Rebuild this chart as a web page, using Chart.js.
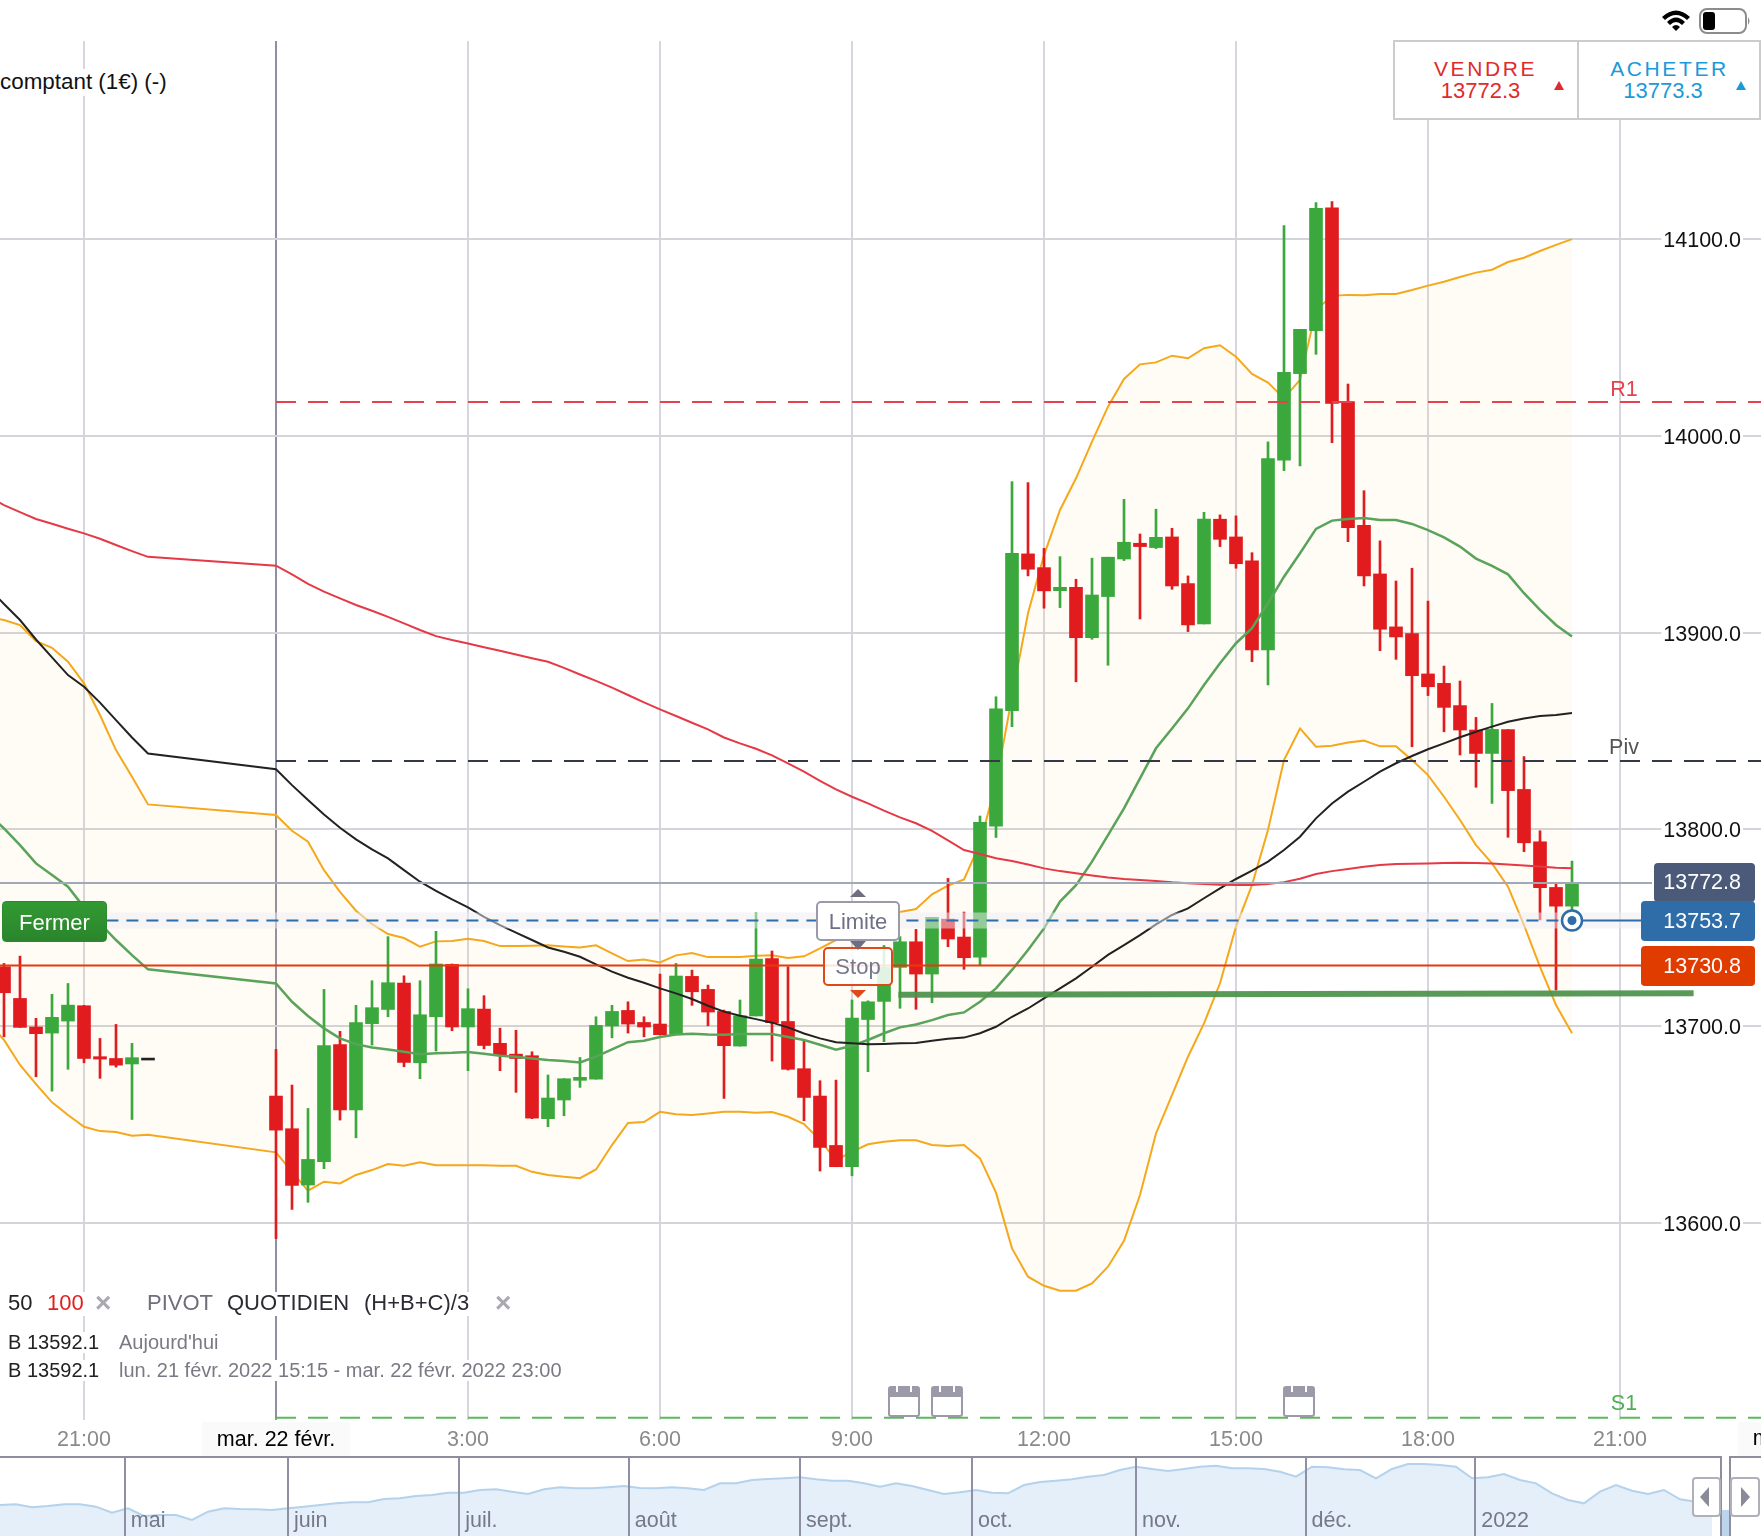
<!DOCTYPE html>
<html lang="fr"><head><meta charset="utf-8">
<script src="https://cdn.jsdelivr.net/npm/chart.js@4"></script>
<style>
html,body{margin:0;padding:0;background:#fff;width:1761px;height:1536px;overflow:hidden;font-family:"Liberation Sans",Arial,sans-serif}
#wrap{position:relative;width:1761px;height:1536px;overflow:hidden}
canvas{position:absolute;left:0;display:block}
.t{position:absolute;white-space:nowrap;line-height:1}
.box{position:absolute;box-sizing:border-box}
.tri{position:absolute;width:0;height:0;border-style:solid;border-color:transparent}
</style></head><body><div id="wrap">
<canvas id="main" width="1761" height="1457" style="top:0"></canvas>
<canvas id="nav" width="1761" height="79" style="top:1457px"></canvas>

<svg style="position:absolute;left:1660px;top:6px" width="92" height="30" viewBox="0 0 92 30">
<path d="M2 11 Q16 -2 30 11 L27 14 Q16 4 5 14Z M7 16 Q16 7 25 16 L22 19 Q16 13 10 19Z M12 21 Q16 17 20 21 L16 25Z" fill="#000"/>
<rect x="40" y="3" width="46" height="24" rx="7" fill="#fff" stroke="#8c8c8c" stroke-width="2"/>
<rect x="43" y="6" width="12" height="18" rx="3" fill="#000"/>
<path d="M88 11 Q91 15 88 19Z" fill="#8c8c8c"/></svg>

<div class="box" style="left:1393px;top:40px;width:368px;height:80px;border:2px solid #ccc;background:#fff"></div>
<div class="box" style="left:1577px;top:40px;width:2px;height:80px;background:#ccc"></div>
<div class="t" style="left:1393px;width:185px;text-align:center;top:58px;font-size:21px;letter-spacing:2.6px;color:#e02b2b">VENDRE</div>
<div class="t" style="left:1393px;width:175px;text-align:center;top:80px;font-size:22px;color:#e02b2b">13772.3</div>
<div class="tri" style="left:1554px;top:81px;border-width:0 5px 9px 5px;border-bottom-color:#e02b2b"></div>
<div class="t" style="left:1578px;width:183px;text-align:center;top:58px;font-size:21px;letter-spacing:2.6px;color:#1a9ad9">ACHETER</div>
<div class="t" style="left:1578px;width:170px;text-align:center;top:80px;font-size:22px;color:#1a9ad9">13773.3</div>
<div class="tri" style="left:1736px;top:81px;border-width:0 5px 9px 5px;border-bottom-color:#1a9ad9"></div>

<div class="t" style="left:0;top:69px;font-size:22.4px;color:#111;background:#fff;padding:2px 2px 3px 0">comptant (1€) (-)</div>

<div class="box" style="left:2px;top:901px;width:105px;height:41px;background:linear-gradient(#329a32,#2a852c);border:1px solid #2b8a2d;border-radius:4px"></div>
<div class="t" style="left:2px;width:105px;text-align:center;top:912px;font-size:22px;color:#fff">Fermer</div>

<div class="tri" style="left:850px;top:889px;border-width:0 8px 8px 8px;border-bottom-color:#6e6e80"></div>
<div class="box" style="left:823px;top:947px;width:70px;height:39px;background:rgba(255,255,255,.86);border:2px solid #e0481a;border-radius:5px"></div>
<div class="t" style="left:823px;width:70px;text-align:center;top:956px;font-size:22px;color:#77778a">Stop</div>
<div class="box" style="left:816px;top:901px;width:84px;height:40px;background:#fff;border:2px solid #9a9aaa;border-radius:5px"></div>
<div class="t" style="left:816px;width:84px;text-align:center;top:911px;font-size:22px;color:#6f6f85">Limite</div>
<div class="tri" style="left:850px;top:941px;border-width:9px 8px 0 8px;border-top-color:#6e6e80"></div>
<div class="tri" style="left:850px;top:990px;border-width:8px 8px 0 8px;border-top-color:#e0481a"></div>

<div class="t" style="left:8px;top:1292px;font-size:22px;color:#222;background:#fff;padding:0 4px 2px 0">50</div>
<div class="t" style="left:47px;top:1292px;font-size:22px;color:#e02020;background:#fff;padding:0 4px 2px 0">100</div>
<div class="t" style="left:95px;top:1289px;font-size:28px;font-weight:bold;color:#a9a9b2;background:#fff;padding:0 8px 0 0">×</div>
<div class="t" style="left:147px;top:1292px;font-size:22px;color:#6f6f7a;background:#fff;padding:0 9px 2px 0">PIVOT</div>
<div class="t" style="left:227px;top:1292px;font-size:22px;color:#2b2b33;background:#fff;padding:0 16px 2px 0">QUOTIDIEN</div>
<div class="t" style="left:364px;top:1292px;font-size:22px;color:#2b2b33;background:#fff;padding:0 4px 2px 0">(H+B+C)/3</div>
<div class="t" style="left:495px;top:1289px;font-size:28px;font-weight:bold;color:#a9a9b2;background:#fff">×</div>
<div class="t" style="left:8px;top:1332px;font-size:20px;color:#222;background:#fff;padding:0 6px 1px 0">B 13592.1</div>
<div class="t" style="left:119px;top:1332px;font-size:20px;color:#7a7a85;background:#fff;padding:0 6px 1px 0">Aujourd'hui</div>
<div class="t" style="left:8px;top:1360px;font-size:20px;color:#222;background:#fff;padding:0 6px 1px 0">B 13592.1</div>
<div class="t" style="left:119px;top:1360px;font-size:20px;color:#7a7a85;background:#fff;padding:0 6px 1px 0">lun. 21 févr. 2022 15:15 - mar. 22 févr. 2022 23:00</div>

<svg style="position:absolute;left:888px;top:1384px" width="32" height="33" viewBox="0 0 32 33"><rect x="1" y="3" width="30" height="29" rx="2" fill="#fff" stroke="#9a9aa8" stroke-width="2"/><rect x="1" y="3" width="30" height="10" fill="#9a9aa8"/><path d="M9 1V8M23 1V8" stroke="#fff" stroke-width="2"/></svg>
<svg style="position:absolute;left:931px;top:1384px" width="32" height="33" viewBox="0 0 32 33"><rect x="1" y="3" width="30" height="29" rx="2" fill="#fff" stroke="#9a9aa8" stroke-width="2"/><rect x="1" y="3" width="30" height="10" fill="#9a9aa8"/><path d="M9 1V8M23 1V8" stroke="#fff" stroke-width="2"/></svg>
<svg style="position:absolute;left:1283px;top:1384px" width="32" height="33" viewBox="0 0 32 33"><rect x="1" y="3" width="30" height="29" rx="2" fill="#fff" stroke="#9a9aa8" stroke-width="2"/><rect x="1" y="3" width="30" height="10" fill="#9a9aa8"/><path d="M9 1V8M23 1V8" stroke="#fff" stroke-width="2"/></svg>

<div class="box" style="left:0;top:1456px;width:1721px;height:2px;background:#8e8e9e"></div>
<div class="box" style="left:1730px;top:1456px;width:31px;height:2px;background:#8e8e9e"></div>
<div class="box" style="left:1720px;top:1456px;width:2px;height:80px;background:#8e8e9e"></div>
<div class="box" style="left:1729px;top:1456px;width:2px;height:80px;background:#8e8e9e"></div>
<div class="box" style="left:1722px;top:1510px;width:7px;height:26px;background:#bcd5ec"></div>
<div class="box" style="left:1692px;top:1477px;width:29px;height:40px;background:#fff;border:2px solid #b0b0bb;border-radius:4px"></div>
<div class="tri" style="left:1700px;top:1487px;border-width:10px 9px 10px 0;border-right-color:#8a8a98"></div>
<div class="box" style="left:1730px;top:1477px;width:30px;height:40px;background:#fff;border:2px solid #b0b0bb;border-radius:4px"></div>
<div class="tri" style="left:1741px;top:1487px;border-width:10px 0 10px 9px;border-left-color:#8a8a98"></div>
</div>
<script>
// Quarter-hour slots: first slot is 21:00 minus 6 bars; slot 0 is mar. 22 févr. 00:00
const firstSlot = -18;
const gap = [null,null,null,null,null,null,null];
const opens = [null,13730.2,13714.1,13699.6,13696.5,13702.6,13710.4,13684.5,13683.6,13680.8,13683.3,...gap,
13664.5,13647.9,13619.3,13631.1,13690.6,13657.4,13701.3,13708.5,13721.9,13681.4,13704.8,13731.4,13699.6,13708.7,13691.3,13685.8,13685,13653,13662.5,13672.5,
13673.1,13700.1,13708,13701.9,13701.1,13696,13725.3,13718.7,13707.5,13689.9,13705.2,13734.3,13702.4,13678.4,13664.5,13639.4,13628.6,13703.4,13712.6,13729.9,
13742.9,13726.5,13754.4,13745.3,13735.1,13801.7,13860.3,13940,13933,13921.3,13923,13897.4,13918.3,13937.4,13945.4,13943.2,13948.6,13924.9,13904.4,13957.6,
13948.6,13936.4,13891.2,13987.6,14031.6,14053.4,14115.8,14017.4,13954.5,13929.8,13902.9,13899.5,13879,13874.2,13862.9,13850.5,13838.6,13850.7,13820.3,13793.7,13770.5,13761];
const highs = [null,13731.9,13735.6,13704,13716.2,13721.7,13710.6,13693.8,13700.9,13691.3,13683.3,...gap,
13688.2,13670.1,13658.2,13718.7,13697.4,13710.6,13723.1,13745.5,13725.6,13723.1,13748.2,13731.6,13719,13715.5,13699,13697.9,13687,13675.2,13673.3,13684.1,
13704.8,13710.6,13712.4,13704.8,13726.5,13731.9,13728.5,13720.9,13708.2,13713.3,13757.7,13738.2,13730.2,13693,13672.3,13672.6,13713.3,13712.9,13741,13745.5,
13749.2,13755.3,13775.1,13758,13806.8,13867.4,13976.7,13976.2,13942.8,13938.6,13927.1,13937.8,13938.3,13967.7,13950.1,13962.7,13953,13928.8,13961.1,13959.8,
13959.3,13940.6,13996.9,14106.8,14054.1,14118.5,14119,14026.3,13972.1,13946.6,13926.2,13932.7,13916,13883,13875.4,13856.9,13864,13850.7,13837,13799.3,13772.6,13783.9];
const lows = [null,13694.6,13699.4,13674.3,13667,13678.1,13681.4,13673.5,13679.2,13652.6,13683.3,...gap,
13592.1,13606.9,13610.5,13627.6,13652.3,13643.3,13690.4,13704.8,13679.4,13673.3,13687.4,13697.7,13677.4,13688.5,13677.4,13666.4,13653,13648.9,13654.5,13668.9,
13673.1,13694.1,13696.5,13694.6,13695.5,13696,13710.6,13700.2,13663.3,13689.9,13705.2,13682.3,13677.7,13652,13626.4,13628.6,13624,13676.9,13692.1,13709.1,
13708.6,13711.9,13740.4,13728.9,13731.1,13795.9,13852.2,13928.8,13912.4,13912.7,13875,13896.6,13883.4,13936.6,13906.9,13942.7,13922,13900.5,13904.4,13943.7,
13932.7,13885.2,13873.4,13982.3,13984.7,14041.4,13996.5,13946.2,13923.7,13890.8,13886.4,13842,13868,13849.6,13837.8,13821.4,13813.2,13796,13788.7,13754,13718.4,13759];
const closes = [null,13717,13699.4,13696.2,13704.5,13710.7,13683.6,13683.3,13680.2,13684,13683.3,...gap,
13647.2,13619.1,13632.3,13690.1,13657.4,13701.9,13709.4,13722.1,13681.6,13705.8,13731.6,13699.6,13708.9,13690.2,13685.3,13683.6,13653.3,13663.5,13673.3,13674,
13700.4,13707.5,13701.1,13699.6,13695.7,13725.5,13717.5,13707.2,13690.1,13705.3,13734.1,13701.8,13678.1,13663.8,13638.4,13628.6,13704.1,13712.4,13730,13742.9,
13726.5,13755.3,13744.3,13734.8,13803.6,13861.2,13940.3,13932.2,13921.2,13923,13897.4,13919.1,13938.3,13945.9,13943.7,13948.4,13923.7,13903.9,13957.7,13947.4,
13935,13891.2,13988.4,14032.3,14054.1,14115.6,14016.5,13953.3,13928.8,13901.7,13897.8,13878.1,13872.5,13862,13850.5,13838.6,13850.8,13819.7,13793.2,13770.4,13761,13773];

const bollUpper = [13908,13906.4,13903.8,13895.7,13892.3,13885.2,13874.2,13858.1,13840.3,13826.7,13812.7,...gap,
13807.3,13799.3,13793.7,13779.3,13768.3,13758.7,13751.9,13746.8,13744.8,13740.4,13743.1,13743.3,13744.4,13743.3,13740.7,13740.7,13740.9,13741.1,13740.5,13740,
13741.1,13737,13733.1,13733.9,13732.4,13736,13737.2,13735.1,13735.1,13735.1,13735.8,13736,13734.6,13735.5,13739.5,13743.8,13745,13748,13752,13758,
13759.5,13767,13771.4,13774.6,13792.9,13823.4,13867.4,13909.8,13939.4,13962.3,13978.4,13997,14014.8,14028.9,14036.3,14037.3,14040.7,14039.4,14044.5,14046,
14040.2,14031.4,14027,14019,14028.4,14063.9,14071.1,14071.6,14071.4,14072.1,14072.1,14074.1,14076.3,14078.3,14080.7,14082.9,14084.4,14088.3,14090.5,14093.9,14097,14099.9];
const bollMiddle = [13808,13800.5,13792,13782.7,13776.8,13770.9,13760.4,13752.2,13743.8,13736.1,13728.9,...gap,
13721.7,13712.4,13705.2,13698.9,13693.8,13690.9,13689.2,13688.2,13687,13685.8,13686.3,13686.5,13686.9,13686,13685,13684.5,13683.6,13682.8,13682.3,13681.6,
13684.5,13688.2,13691.9,13692.6,13694.5,13695.8,13696.2,13695.8,13695.7,13696,13696,13696,13694.5,13693,13690.6,13688,13690.1,13693,13696.4,13699.4,
13700.9,13703.1,13705.7,13707,13712.4,13719.2,13728.6,13738.7,13749.7,13763.3,13771.7,13783.6,13797.1,13810.7,13825.9,13841.2,13851.3,13861.5,13873.4,13884.4,
13894.6,13902.2,13914.9,13928.4,13940.3,13952.7,13956.9,13957.7,13958.2,13957.2,13957.2,13955.2,13952.1,13948.4,13943.7,13937.6,13933.9,13929.6,13920,13911.5,13903.9,13898];
const bollLower = [13702,13693,13680.3,13670.6,13661.3,13654.9,13648.9,13646.7,13646.2,13644.3,13644.8,...gap,
13635.9,13626,13616.4,13621,13620.1,13624.4,13626.9,13630,13629.1,13630.8,13629.4,13629.4,13629.4,13629.3,13629.1,13629.1,13626,13624.4,13623.5,13622.8,
13627.2,13639.6,13650.8,13651.3,13656.5,13655.3,13654.9,13655.7,13656.5,13656.5,13656,13656.4,13654,13650.3,13642.1,13632,13636.2,13640,13641.3,13642,
13642,13639.6,13639.1,13639.6,13632.8,13615.4,13587.1,13572.7,13568.1,13565.6,13565.6,13569.3,13577.8,13591,13614.2,13645.5,13665,13684.5,13701.4,13721.8,
13750.6,13771.7,13799.7,13835.2,13851.3,13842,13842.5,13844.2,13845.1,13842.2,13842.2,13835.2,13827.6,13816.6,13804.8,13792,13782.7,13770.9,13751.4,13730.2,13710.8,13696.4];
const ma50 = [13923,13914.5,13906.4,13896.5,13887.4,13878.4,13872.5,13864.4,13855.5,13846.7,13838.6,...gap,
13830.6,13822.5,13814.9,13807.6,13800.8,13794.9,13789.8,13785.3,13779.3,13773.4,13768.8,13764.4,13760.4,13755.6,13751.4,13747.5,13743.8,13740,13737.8,13735.3,
13731.4,13727.7,13724.6,13722.1,13719.2,13716.7,13713.8,13710.4,13707.4,13705.3,13703.6,13701.8,13699.4,13696.3,13693.8,13691.8,13691.3,13690.8,13691,13691.3,
13691.5,13692.6,13693.6,13694.2,13696.4,13699.7,13704.8,13709,13714.1,13719.2,13724.3,13730.2,13736.2,13741.2,13746.3,13751.7,13756.5,13759.9,13765,13770,
13774.8,13779,13783.6,13789.5,13796.3,13805.6,13813.2,13819.2,13824.2,13829.3,13833.6,13837.3,13840.7,13843.7,13846.8,13849.6,13852.2,13854.7,13856.4,13857.6,13858.1,13859.1];
const ma100 = [13969,13964.8,13961.2,13957.7,13955.3,13952.8,13950.4,13947.7,13944.5,13941.4,13938.5,...gap,
13934,13929.6,13924.7,13920.8,13917.4,13914,13911.1,13908,13904.7,13901.3,13898.2,13896.2,13894.5,13892.6,13890.8,13888.9,13887,13885.2,13882.1,13878.7,
13875.5,13872,13868.3,13864.5,13861,13857.6,13854.2,13850.8,13846.7,13843.7,13841,13837.6,13833.5,13829.3,13824.7,13820.3,13816.6,13813.2,13809.5,13806.1,
13803.1,13799.2,13794.4,13789.5,13787.5,13785.3,13783.9,13782.2,13780.2,13778.8,13777.7,13776.6,13775.6,13774.8,13774.3,13773.8,13773.1,13772.6,13772.2,13771.9,
13771.7,13771.7,13772.2,13773.2,13774.9,13777.3,13778.8,13779.9,13781,13781.9,13782.4,13782.6,13782.7,13782.9,13783.1,13782.9,13782.7,13782.2,13781.7,13781.2,13780.5,13780.2];

const yTickValues = [13600,13700,13800,13900,14000,14100];
const xTickSlots = [-12,0,12,24,36,48,60,72,84];
const xTickLabels = ['21:00','mar. 22 févr.','3:00','6:00','9:00','12:00','15:00','18:00','21:00'];
const nextDaySlot = 96, nextDayLabel = 'mer. 23 févr.';

const pivotR1 = 14017.2, pivotP = 13834.8, pivotS1 = 13501;
const bidPrice = 13772.8, positionPrice = 13753.7, stopPrice = 13730.8;
const supportStart = [38.9,13716.0], supportEnd = [88.6,13716.7];

// Navigator: monthly overview, one reading every two trading days or so
const navValues = [15175,15192,15117,15150,15192,15192,15133,14983,15092,14900,14925,14925,14800,15008,15092,15075,15067,15050,15092,15133,15175,15217,15242,15242,15325,15342,15400,15425,15483,15483,15550,15567,15508,15450,15567,15617,15592,15592,15617,15650,15600,15592,15617,15592,15550,15717,15717,15800,15825,15842,15867,15817,15783,15783,15717,15633,15717,
15650,15550,15450,15492,15550,15483,15467,15675,15750,15783,15817,15883,15925,16050,16133,16075,16025,16075,16133,16158,16092,16092,16075,16008,15883,16133,16117,16067,16050,15842,16075,16200,16200,16175,16133,15842,15867,15950,15800,15717,15467,15300,15217,15508,15675,15533,15450,15550,15317,15258,15117];
const navMonthSlots = [7.8,18,28.7,39.3,50,60.75,71,81.6,92.2];
const navMonthLabels = ['mai','juin','juil.','août','sept.','oct.','nov.','déc.','2022'];

const FONT = '"Liberation Sans", Arial, sans-serif';
const GREEN = '#3aa83c', RED = '#e11b1e', DOJI = '#222';
const slots = opens.map((_, k) => firstSlot + k);
const pts = arr => slots.map((x, k) => arr[k] == null ? null : {x, y: arr[k]}).filter(Boolean);
const candleKeep = slots.map((_, k) => k).filter(k => opens[k] != null);
const colorOf = k => closes[k] > opens[k] ? GREEN : closes[k] < opens[k] ? RED : DOJI;
const wickData = candleKeep.filter(k => opens[k] !== closes[k]).map(k => ({x: slots[k], y: [lows[k], highs[k]]}));
const wickColors = candleKeep.filter(k => opens[k] !== closes[k]).map(colorOf);
const bodyData = candleKeep.map(k => ({x: slots[k], y: opens[k] === closes[k] ? [opens[k] - 0.5, closes[k] + 0.5] : [opens[k], closes[k]]}));
const bodyColors = candleKeep.map(colorOf);

const XMIN = -17.25, XMAX = 92.8125;
const level = (v, color, dash, from, to, w, order) => ({type: 'line', data: [{x: from, y: v}, {x: to, y: v}], borderColor: color, borderWidth: w || 2, borderDash: dash || [], pointRadius: 0, fill: false, order: order === undefined ? 1 : order});
const lineDs = (arr, color, w, order, extra) => Object.assign({type: 'line', data: pts(arr), borderColor: color, borderWidth: w, pointRadius: 0, tension: 0, fill: false, order}, extra || {});

const datasets = [
  lineDs(bollLower, '#f5a81c', 2, 20),                                             // 0
  lineDs(bollUpper, '#f5a81c', 2, 20, {fill: 0, backgroundColor: 'rgba(255,170,50,0.05)'}),
  {type: 'bar', data: wickData, backgroundColor: wickColors, barThickness: 2, grouped: false, order: 12},
  {type: 'bar', data: bodyData, backgroundColor: bodyColors, barThickness: 13, grouped: false, order: 11},
  lineDs(bollMiddle, '#5aa35a', 2.5, 6),
  lineDs(ma50, '#222222', 2, 5),
  lineDs(ma100, '#e63946', 2, 4),
  level(positionPrice, 'rgba(238,238,244,0.5)', [], -10.6, 85.5, 16, 2),
  level(pivotR1, '#e8414e', [20,12], 0, XMAX),
  level(pivotP, '#333a45', [20,12], 0, XMAX),
  level(pivotS1, '#5cb85c', [20,12], 0, XMAX),
  level(bidPrice, '#a0a9b8', [], XMIN, 86),
  level(stopPrice, '#e8380d', [], XMIN, 86),
  level(positionPrice, '#2e6da8', [12,8], -10.6, 80.9),
  level(positionPrice, '#2e6da8', [], 80.9, 86),
  {type: 'line', data: [{x: supportStart[0], y: supportStart[1]}, {x: supportEnd[0], y: supportEnd[1]}], borderColor: 'rgba(75,145,75,0.92)', borderWidth: 6, pointRadius: 0, fill: false, order: 1},
  {type: 'line', data: [{x: 81, y: positionPrice}], pointRadius: 10, pointBackgroundColor: '#fff', pointBorderColor: '#2e6da8', pointBorderWidth: 2.5, showLine: false, order: 0},
  {type: 'line', data: [{x: 81, y: positionPrice}], pointRadius: 4.5, pointBackgroundColor: '#2e6da8', pointBorderWidth: 0, showLine: false, order: -1}
];

const priceTags = [
  {v: bidPrice, bg: '#4a5a78', left: 1654, top: 863, h: 39},
  {v: positionPrice, bg: '#2e6da8', left: 1641, top: 901, h: 40},
  {v: stopPrice, bg: '#e03c00', left: 1641, top: 946, h: 40}
];

const overlay = {
  id: 'overlay',
  beforeDraw(c) {
    const ctx = c.ctx, x = c.scales.x;
    ctx.save();
    ctx.fillStyle = '#fafafa';
    const cx = x.getPixelForValue(0);
    ctx.fillRect(cx - 74, 1422, 148, 34);
    ctx.restore();
  },
  afterDatasetsDraw(c) {
    const ctx = c.ctx, x = c.scales.x, y = c.scales.y;
    ctx.save();
    // pivot labels
    ctx.font = '21.5px ' + FONT; ctx.textAlign = 'center'; ctx.textBaseline = 'middle';
    const lx = x.getPixelForValue(84) + 4;
    ctx.fillStyle = '#e8414e'; ctx.fillText('R1', lx, y.getPixelForValue(pivotR1) - 12);
    ctx.fillStyle = '#555'; ctx.fillText('Piv', lx, y.getPixelForValue(pivotP) - 13);
    ctx.fillStyle = '#4caf50'; ctx.fillText('S1', lx, y.getPixelForValue(pivotS1) - 14);
    // price tags
    priceTags.forEach(t => {
      ctx.fillStyle = t.bg;
      ctx.beginPath(); ctx.roundRect(t.left, t.top, 1755 - t.left, t.h, 4); ctx.fill();
      ctx.fillStyle = '#fff'; ctx.textAlign = 'right';
      ctx.fillText(t.v.toFixed(1), 1741, t.top + t.h / 2 + 1);
    });
    // next day label, centred beyond the right edge
    ctx.fillStyle = '#fafafa'; const nx = x.getPixelForValue(nextDaySlot);
    ctx.fillRect(nx - 74, 1422, 148, 34);
    ctx.fillStyle = '#000'; ctx.textAlign = 'center';
    ctx.fillText(nextDayLabel, nx, 1439);
    ctx.restore();
  }
};

Chart.defaults.animation = false;
new Chart(document.getElementById('main'), {
  type: 'bar',
  data: {datasets},
  plugins: [overlay],
  options: {
    responsive: false, devicePixelRatio: 1, animation: false,
    layout: {autoPadding: false, padding: {top: 41, left: 0, right: 0, bottom: 0}},
    plugins: {legend: {display: false}, tooltip: {enabled: false}},
    scales: {
      x: {
        type: 'linear', min: XMIN, max: XMAX, offset: false,
        afterFit(s) { s.height = 37; s.paddingLeft = 0; s.paddingRight = 0; },
        afterBuildTicks(s) { s.ticks = xTickSlots.map(value => ({value})); },
        grid: {offset: false, color: c => c.tick && c.tick.value === 0 ? '#8f8fa3' : '#d6d6e0', lineWidth: 2, drawTicks: false},
        border: {display: false},
        ticks: {
          autoSkip: false, maxRotation: 0, padding: 7,
          font: {family: FONT, size: 21.5},
          color: c => c.tick && c.tick.value === 0 ? '#000' : '#8a8a8a',
          callback: v => xTickLabels[xTickSlots.indexOf(v)]
        }
      },
      y: {
        type: 'linear', position: 'right', min: 13499.9, max: 14200.6,
        afterFit(s) { s.width = 0; s.paddingTop = 0; s.paddingBottom = 0; },
        afterBuildTicks(s) { s.ticks = yTickValues.map(value => ({value})); },
        grid: {color: '#d4d4da', lineWidth: 2, drawTicks: false},
        border: {display: false},
        ticks: {
          mirror: true, padding: -20, color: '#111', labelOffset: 2,
          font: {family: FONT, size: 21.5},
          showLabelBackdrop: true, backdropColor: '#fff', backdropPadding: {x: 2, y: 0},
          callback: v => Number(v).toFixed(1)
        }
      }
    }
  }
});

const navLabels = {
  id: 'navLabels',
  afterDraw(c) {
    const ctx = c.ctx, x = c.scales.x;
    ctx.save();
    ctx.font = '21.5px ' + FONT; ctx.fillStyle = '#77778a'; ctx.textAlign = 'left'; ctx.textBaseline = 'middle';
    navMonthSlots.forEach((m, k) => ctx.fillText(navMonthLabels[k], x.getPixelForValue(m) + 6, 64));
    ctx.restore();
  }
};
new Chart(document.getElementById('nav'), {
  type: 'line',
  data: {datasets: [{data: navValues.map((y, x) => ({x, y})), borderColor: '#b4d2ec', borderWidth: 2, backgroundColor: '#e4eff9', fill: 'start', pointRadius: 0, tension: 0}]},
  plugins: [navLabels],
  options: {
    responsive: false, devicePixelRatio: 1, animation: false,
    layout: {autoPadding: false, padding: 0},
    plugins: {legend: {display: false}, tooltip: {enabled: false}},
    scales: {
      x: {
        type: 'linear', min: 0, max: 110.0625,
        afterFit(s) { s.height = 0; s.paddingLeft = 0; s.paddingRight = 0; },
        afterBuildTicks(s) { s.ticks = navMonthSlots.map(value => ({value})); },
        grid: {color: '#8f8fa3', lineWidth: 2, drawTicks: false, z: 1},
        border: {display: false},
        ticks: {display: false}
      },
      y: {
        type: 'linear', min: 14400, max: 16375,
        afterFit(s) { s.width = 0; s.paddingTop = 0; s.paddingBottom = 0; },
        grid: {display: false}, border: {display: false}, ticks: {display: false}
      }
    }
  }
});
</script></body></html>
